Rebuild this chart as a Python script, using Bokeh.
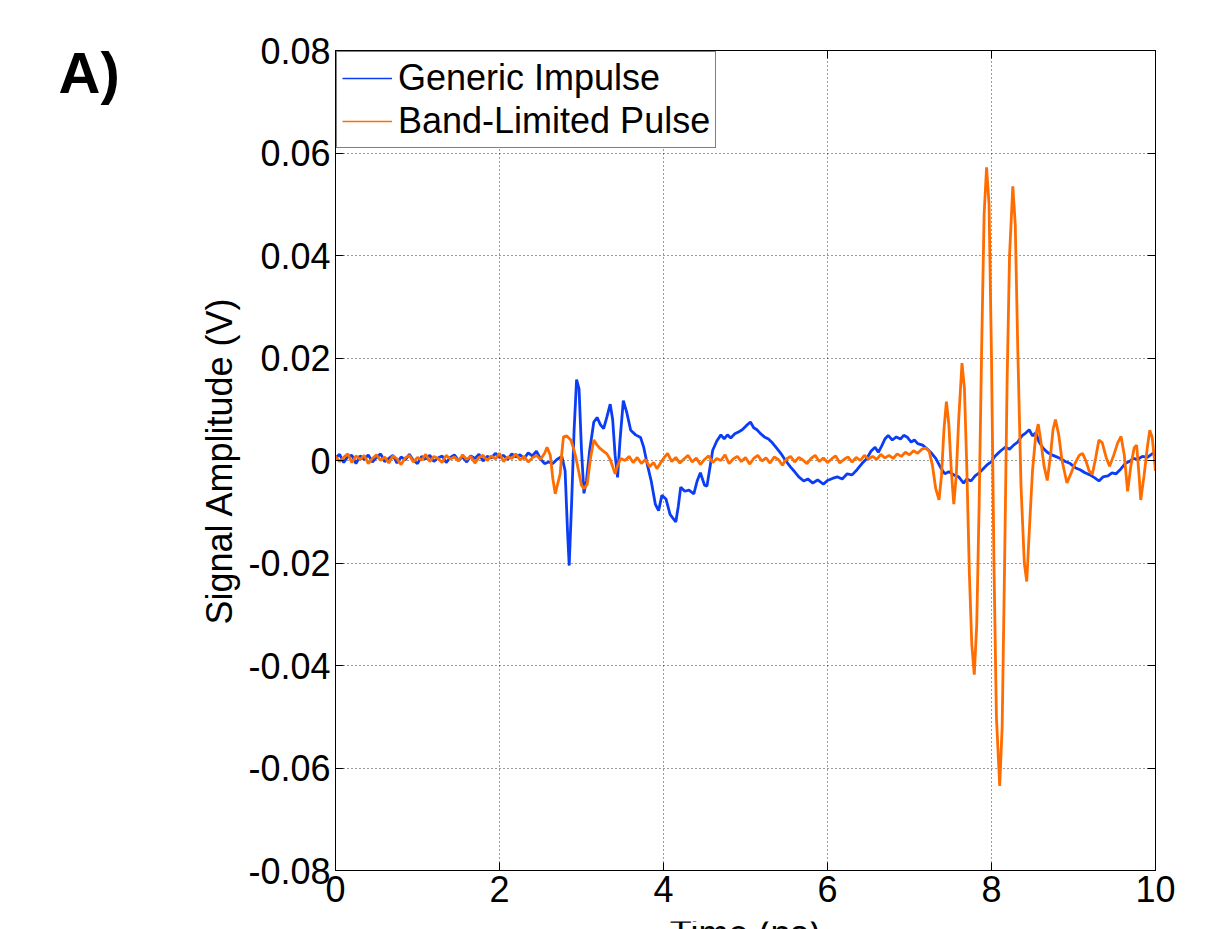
from bokeh.plotting import figure
from bokeh.layouts import row, column
from bokeh.models import Range1d, FixedTicker, LinearAxis, Legend, LegendItem, Label, CustomJSTickFormatter
from bokeh.embed import file_html
from bokeh.resources import INLINE
import numpy as np

FONT = "Liberation Sans"

# ---------------- data ----------------
x_ticks = [0, 2, 4, 6, 8, 10]
x_tick_labels = ["0", "2", "4", "6", "8", "10"]
y_ticks = [-0.08, -0.06, -0.04, -0.02, 0, 0.02, 0.04, 0.06, 0.08]
y_tick_labels = ["-0.08", "-0.06", "-0.04", "-0.02", "0", "0.02", "0.04", "0.06", "0.08"]

series_names = ["Generic Impulse", "Band-Limited Pulse"]
series_colors = ["#0B3DF7", "#FF6C00"]

# Generic Impulse: time (ns) and amplitude (mV)
blue_t = [0.00, 0.05, 0.10, 0.15, 0.20, 0.25, 0.30, 0.35, 0.40, 0.45,
          0.50, 0.55, 0.60, 0.65, 0.70, 0.75, 0.80, 0.85, 0.90, 0.95,
          1.00, 1.05, 1.10, 1.15, 1.20, 1.25, 1.30, 1.35, 1.40, 1.45,
          1.50, 1.55, 1.60, 1.65, 1.70, 1.75, 1.80, 1.85, 1.90, 1.95,
          2.00, 2.05, 2.10, 2.15, 2.20, 2.25, 2.30, 2.35, 2.40, 2.45,
          2.50, 2.55, 2.60, 2.65, 2.70, 2.76, 2.80, 2.83, 2.85, 2.88,
          2.91, 2.94, 2.97, 3.00, 3.03, 3.06, 3.10, 3.15, 3.19, 3.23,
          3.27, 3.31, 3.35, 3.38, 3.41, 3.44, 3.47, 3.51, 3.55, 3.60,
          3.66, 3.72, 3.76, 3.80, 3.85, 3.90, 3.94, 3.98, 4.03, 4.08,
          4.15, 4.18, 4.21, 4.26, 4.31, 4.37, 4.41, 4.45, 4.50, 4.53,
          4.57, 4.60, 4.65, 4.70, 4.74, 4.78, 4.82, 4.87, 4.92, 4.96,
          5.01, 5.06, 5.10, 5.14, 5.18, 5.23, 5.28, 5.33, 5.38, 5.43,
          5.48, 5.55, 5.60, 5.65, 5.71, 5.76, 5.82, 5.88, 5.95, 6.00,
          6.06, 6.12, 6.18, 6.24, 6.30, 6.36, 6.42, 6.48, 6.53, 6.58,
          6.62, 6.66, 6.70, 6.74, 6.79, 6.84, 6.89, 6.93, 6.97, 7.02,
          7.06, 7.10, 7.16, 7.22, 7.27, 7.32, 7.38, 7.43, 7.48, 7.54,
          7.60, 7.66, 7.70, 7.75, 7.80, 7.85, 7.90, 7.95, 8.00, 8.04,
          8.08, 8.12, 8.17, 8.22, 8.27, 8.32, 8.37, 8.42, 8.46, 8.50,
          8.54, 8.58, 8.63, 8.68, 8.72, 8.78, 8.84, 8.90, 8.96, 9.02,
          9.08, 9.14, 9.20, 9.26, 9.31, 9.36, 9.42, 9.47, 9.52, 9.58,
          9.63, 9.68, 9.73, 9.78, 9.84, 9.90, 9.95, 10.00]
blue_mv = [0.5, 1.2, -0.4, 0.8, 1.0, -0.6, 0.9, 0.2, 1.1, -0.3,
           0.6, 1.3, -0.2, 0.4, 1.0, -0.5, 0.7, 0.1, 1.2, 0.0,
           -0.6, 0.8, 0.3, 1.0, -0.2, 0.5, 0.9, -0.4, 0.6, 1.1,
           0.0, 0.7, -0.3, 0.9, 0.4, 1.2, -0.1, 0.8, 0.5, 1.4,
           0.6, 1.0, 0.2, 1.3, 0.7, 1.1, 0.4, 1.5, 0.9, 1.8,
           0.3, -0.6, -0.3, -0.6, 0.2, 0.8, -2.0, -14.0, -20.5, -8.0,
           6.0, 15.8, 14.0, 2.0, -6.4, -4.0, 2.0, 7.5, 8.4, 7.0,
           6.2, 8.5, 11.0, 8.0, 1.0, -3.3, 4.0, 11.7, 9.5, 5.9,
           5.0, 4.5, 2.5, -0.6, -4.0, -8.5, -9.8, -6.8, -7.5, -10.5,
           -12.0, -9.0, -5.2, -6.0, -5.8, -6.5, -4.0, -2.4, -4.8, -5.0,
           -1.0, 2.0, 3.8, 5.0, 4.2, 5.0, 4.4, 5.2, 5.6, 6.0,
           6.8, 7.5, 6.4, 6.0, 5.3, 4.6, 4.2, 3.4, 2.4, 1.4,
           0.2, -1.3, -2.2, -3.2, -4.0, -3.6, -4.4, -3.8, -4.6, -3.9,
           -3.5, -3.2, -3.6, -2.6, -2.8, -1.8, -0.6, 0.4, 1.8, 2.6,
           1.6, 2.8, 4.2, 4.9, 4.0, 4.6, 4.2, 4.9, 4.6, 3.6,
           4.0, 3.3, 3.0, 2.2, 1.4, 0.4, -1.4, -2.6, -2.2, -2.8,
           -3.2, -4.4, -3.6, -4.0, -3.0, -2.4, -1.6, -0.8, -0.2, 0.8,
           1.4, 2.0, 2.6, 2.2, 3.0, 3.6, 4.8, 5.4, 6.0, 4.8,
           5.4, 3.6, 2.4, 1.6, 1.2, 0.8, 0.4, -0.2, -0.6, -1.4,
           -1.8, -2.4, -2.8, -3.4, -4.0, -3.2, -3.0, -2.4, -2.6, -1.6,
           -0.6, -0.2, 0.4, 0.2, 0.8, 0.6, 1.2, 1.6]

# Band-Limited Pulse: time (ns) and amplitude (mV)
orange_t = [0.00, 0.05, 0.10, 0.15, 0.20, 0.25, 0.30, 0.35, 0.40, 0.45,
            0.50, 0.55, 0.60, 0.65, 0.70, 0.75, 0.80, 0.85, 0.90, 0.95,
            1.00, 1.05, 1.10, 1.15, 1.20, 1.25, 1.30, 1.35, 1.40, 1.45,
            1.50, 1.55, 1.60, 1.65, 1.70, 1.75, 1.80, 1.85, 1.90, 1.95,
            2.00, 2.05, 2.10, 2.15, 2.20, 2.25, 2.30, 2.35, 2.40, 2.45,
            2.50, 2.55, 2.58, 2.62, 2.65, 2.68, 2.71, 2.74, 2.76, 2.78,
            2.82, 2.87, 2.90, 2.93, 2.97, 3.00, 3.03, 3.07, 3.11, 3.15,
            3.19, 3.23, 3.27, 3.31, 3.35, 3.38, 3.41, 3.44, 3.48, 3.53,
            3.58, 3.63, 3.68, 3.73, 3.78, 3.83, 3.88, 3.92, 3.96, 4.00,
            4.05, 4.10, 4.15, 4.20, 4.25, 4.30, 4.35, 4.40, 4.45, 4.50,
            4.55, 4.60, 4.65, 4.70, 4.75, 4.80, 4.85, 4.90, 4.95, 5.00,
            5.05, 5.10, 5.15, 5.20, 5.25, 5.30, 5.35, 5.40, 5.45, 5.50,
            5.55, 5.60, 5.65, 5.70, 5.75, 5.80, 5.85, 5.90, 5.95, 6.00,
            6.05, 6.10, 6.15, 6.20, 6.25, 6.30, 6.35, 6.40, 6.45, 6.50,
            6.55, 6.60, 6.65, 6.70, 6.75, 6.80, 6.85, 6.90, 6.95, 7.00,
            7.05, 7.10, 7.15, 7.20, 7.24, 7.28, 7.32, 7.36, 7.39, 7.42,
            7.45, 7.48, 7.51, 7.54, 7.57, 7.60, 7.64, 7.67, 7.70, 7.73,
            7.76, 7.79, 7.82, 7.85, 7.88, 7.91, 7.94, 7.97, 8.00, 8.03,
            8.06, 8.10, 8.13, 8.16, 8.19, 8.22, 8.26, 8.29, 8.32, 8.36,
            8.40, 8.43, 8.46, 8.50, 8.54, 8.57, 8.60, 8.64, 8.68, 8.72,
            8.75, 8.78, 8.82, 8.86, 8.92, 8.97, 9.02, 9.07, 9.11, 9.15,
            9.19, 9.23, 9.27, 9.31, 9.35, 9.40, 9.44, 9.49, 9.54, 9.58,
            9.62, 9.66, 9.70, 9.74, 9.77, 9.80, 9.82, 9.86, 9.90, 9.93,
            9.96, 10.00]
orange_mv = [0.8, -0.2, 0.6, 1.3, -0.4, 0.9, 0.2, 1.0, -0.6, 0.4,
             1.1, 0.0, 0.7, -0.5, 0.9, 0.3, -0.8, 0.5, 1.0, -0.3,
             0.6, 0.1, 1.2, -0.2, 0.8, 0.4, -0.4, 1.0, 0.3, 0.7,
             -0.1, 1.1, 0.2, 0.8, -0.5, 0.6, 1.0, 0.0, 0.9, 0.3,
             1.4, -0.2, 0.7, 0.4, 1.3, 0.1, 0.8, -0.3, 0.5, 1.0,
             0.2, 1.4, 2.6, 1.0, -3.5, -6.5, -4.5, -2.6, 1.5, 4.6,
             4.8, 4.0, 2.5, 0.7, -2.5, -4.8, -5.5, -4.6, 0.5, 4.0,
             3.0, 2.3, 1.8, 1.3, 0.2, -1.2, -2.6, -1.0, 0.4, 0.0,
             0.8, -0.4, 0.6, -0.6, 0.2, -1.2, -0.4, -1.6, -0.6, 0.4,
             1.4, -0.2, 0.6, -0.5, 0.3, 1.0, -0.3, 0.5, -0.8, 0.2,
             0.9, -0.4, 0.4, 0.0, 1.1, -0.6, 0.3, 0.8, -0.2, 0.6,
             -0.7, 0.4, 1.0, -0.1, 0.5, -0.5, 0.7, 0.2, -0.9, 0.3,
             0.8, -0.3, 0.6, 0.1, -0.6, 0.4, 1.0, -0.2, 0.5, -0.4,
             0.3, 0.9, -0.5, 0.2, 0.7, -0.3, 0.6, 0.0, 1.0, 0.3,
             0.8, 0.2, 1.2, 0.5, 1.0, 0.4, 1.3, 0.8, 1.6, 1.1,
             1.9, 1.4, 2.2, 2.4, 1.8, -1.0, -5.5, -7.7, -3.0, 6.0,
             11.5, 7.0, -2.0, -8.5, -3.0, 8.0, 19.0, 14.0, -2.0, -22.0,
             -36.0, -41.8, -32.0, -8.0, 22.0, 48.0, 57.2, 50.0, 20.0, -20.0,
             -50.0, -63.5, -52.0, -20.0, 15.0, 40.0, 53.5, 46.0, 22.0, -5.0,
             -20.0, -23.6, -14.0, -2.0, 5.0, 7.1, 4.0, -1.0, -3.9, 1.0,
             6.0, 8.0, 5.0, 0.0, -4.4, -2.5, -0.5, 1.0, 1.4, 0.0,
             -2.0, -2.7, 0.5, 4.0, 3.5, 0.5, -1.1, 1.0, 3.5, 4.7,
             1.0, -6.0, -1.0, 2.5, 3.0, -3.0, -7.7, -3.0, 2.5, 5.9,
             4.5, -2.0]

assert len(blue_t) == len(blue_mv), (len(blue_t), len(blue_mv))
assert len(orange_t) == len(orange_mv), (len(orange_t), len(orange_mv))

blue_v = np.array(blue_mv) / 1000.0
orange_v = np.array(orange_mv) / 1000.0

# ---------------- layout sizes ----------------
PAGE_W, PAGE_H = 1220, 929
LEFT_W = 130          # strip that holds the panel letter
STRIP_H = 10          # strip at the bottom that holds the (cut-off) x title
MAIN_W = PAGE_W - LEFT_W
MAIN_H = PAGE_H - STRIP_H
B_LEFT, B_RIGHT, B_TOP, B_BOTTOM = 205, 65, 50, 49
FRAME_W = MAIN_W - B_LEFT - B_RIGHT

# ---------------- main figure ----------------
fig = figure(width=MAIN_W, height=MAIN_H, output_backend="svg", toolbar_location=None,
             title=None,
             x_range=Range1d(0, 10), y_range=Range1d(-0.08, 0.08),
             min_border_left=B_LEFT, min_border_right=B_RIGHT,
             min_border_top=B_TOP, min_border_bottom=B_BOTTOM)
fig.background_fill_color = "white"
fig.border_fill_color = "white"
fig.outline_line_color = "black"
fig.outline_line_width = 1

fig.xaxis.ticker = FixedTicker(ticks=x_ticks)
fig.yaxis.ticker = FixedTicker(ticks=y_ticks)
fig.xaxis.major_label_overrides = {t: lab for t, lab in zip(x_ticks, x_tick_labels)}
fig.yaxis.major_label_overrides = {t: lab for t, lab in zip(y_ticks, y_tick_labels)}

for ax in [fig.xaxis[0], fig.yaxis[0]]:
    ax.major_tick_in = 8
    ax.major_tick_out = 0
    ax.minor_tick_in = 0
    ax.minor_tick_out = 0
    ax.axis_line_color = "black"
    ax.major_tick_line_color = "black"
    ax.major_label_text_font = FONT
    ax.major_label_text_font_size = "36px"
    ax.major_label_text_color = "black"
    ax.major_label_standoff = 5

fig.yaxis.axis_label = "Signal Amplitude (V)"
fig.yaxis.axis_label_text_font = FONT
fig.yaxis.axis_label_text_font_size = "36px"
fig.yaxis.axis_label_text_font_style = "normal"
fig.yaxis.axis_label_text_color = "black"
fig.yaxis.axis_label_standoff = 5

blank = CustomJSTickFormatter(code="return ''")
top_ax = LinearAxis(ticker=FixedTicker(ticks=x_ticks), formatter=blank,
                    major_tick_in=8, major_tick_out=0, minor_tick_in=0, minor_tick_out=0,
                    major_label_text_font_size="1px", axis_line_color="black")
right_ax = LinearAxis(ticker=FixedTicker(ticks=y_ticks), formatter=blank,
                      major_tick_in=8, major_tick_out=0, minor_tick_in=0, minor_tick_out=0,
                      major_label_text_font_size="1px", axis_line_color="black")
fig.add_layout(top_ax, "above")
fig.add_layout(right_ax, "right")

fig.xgrid.ticker = FixedTicker(ticks=x_ticks)
fig.ygrid.ticker = FixedTicker(ticks=y_ticks)
fig.grid.grid_line_color = "#222222"
fig.grid.grid_line_dash = "1 3"
fig.grid.grid_line_width = 1
fig.grid.grid_line_alpha = 0.9

# data lines
fig.line(blue_t, blue_v, line_color=series_colors[0], line_width=2.8)
fig.line(orange_t, orange_v, line_color=series_colors[1], line_width=2.8)

# legend samples (thin lines as in the reference; their data lie outside the visible x range)
lg_b = fig.line([-5, -4], [0, 0], line_color=series_colors[0], line_width=1.6)
lg_o = fig.line([-5, -4], [0, 0], line_color=series_colors[1], line_width=1.6)
legend = Legend(items=[LegendItem(label=series_names[0], renderers=[lg_b]),
                       LegendItem(label=series_names[1], renderers=[lg_o])],
                location="top_left", margin=1, padding=5, spacing=1,
                glyph_width=50, glyph_height=42, label_standoff=6,
                label_text_font=FONT, label_text_font_size="36px",
                label_text_color="black",
                border_line_color="black", border_line_width=1,
                background_fill_color="white", background_fill_alpha=1)
fig.add_layout(legend)

# ---------------- left strip with the panel letter ----------------
left = figure(width=LEFT_W, height=PAGE_H, output_backend="svg", toolbar_location=None,
              title=None,
              x_range=Range1d(0, LEFT_W), y_range=Range1d(0, PAGE_H),
              x_axis_location=None, y_axis_location=None,
              min_border=0, min_border_left=0, min_border_right=0,
              min_border_top=0, min_border_bottom=0)
left.grid.visible = False
left.outline_line_color = None
left.background_fill_color = "white"
left.border_fill_color = "white"
# anchor sits at the vertical middle of the letters (about 72 px below the top)
left.add_layout(Label(x=58, y=PAGE_H - 72, text="A)", text_font=FONT, text_font_style="bold",
                      text_font_size="58px", text_color="black", text_baseline="alphabetic"))

# ---------------- bottom strip with the x-axis title (cut off like the reference) ----------------
ns_per_px = 10.0 / FRAME_W
strip = figure(width=MAIN_W, height=STRIP_H, output_backend="svg", toolbar_location=None,
               title=None,
               x_range=Range1d(-B_LEFT * ns_per_px, 10 + B_RIGHT * ns_per_px),
               y_range=Range1d(0, STRIP_H),
               x_axis_location=None, y_axis_location=None,
               min_border=0, min_border_left=0, min_border_right=0,
               min_border_top=0, min_border_bottom=0)
strip.grid.visible = False
strip.outline_line_color = None
strip.background_fill_color = "white"
strip.border_fill_color = "white"
# anchor just below the strip's bottom edge, so only the top of the letters shows
strip.add_layout(Label(x=5, y=-2, x_offset=-53, text="Time (ns)", text_font=FONT,
                       text_font_size="36px", text_color="black", text_align="center",
                       text_baseline="alphabetic"))

p = row(left, column(fig, strip, spacing=0), spacing=0)

open("out.html", "w").write(file_html(p, INLINE))
